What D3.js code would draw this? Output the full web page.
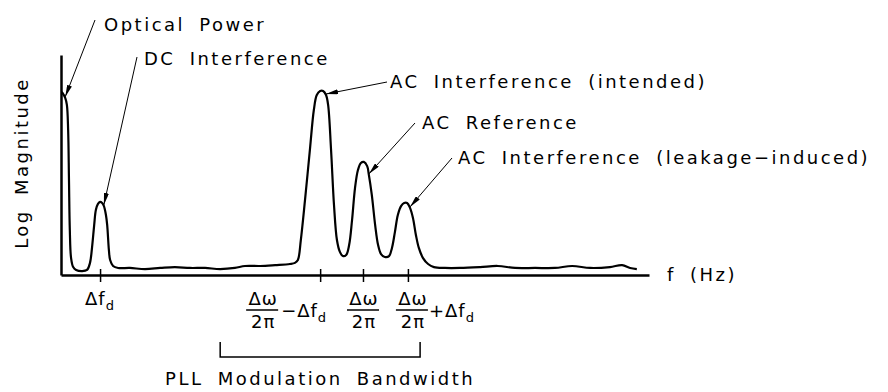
<!DOCTYPE html>
<html>
<head>
<meta charset="utf-8">
<script src="https://cdn.jsdelivr.net/npm/d3@7/dist/d3.min.js"></script>
<style>
body { margin: 0; background: #fff; }
svg text { font-family: "DejaVu Sans", sans-serif; font-size: 18px; fill: #000; }
.note, .title { letter-spacing: 2.5px; word-spacing: 6px; }
.math { letter-spacing: 1px; }
</style>
</head>
<body>
<svg id="spectrum-svg" width="888" height="392"></svg>
<script>
// spectrum: frequency (arbitrary units) and log magnitude (0-100)
let specFreq = [0.2, 1.0, 1.4, 1.7, 1.9, 2.1, 2.4, 2.9, 3.6, 5.0,
    6.2, 6.9, 7.4, 7.9, 8.3, 8.8, 9.3, 9.8, 10.2, 10.7,
    11.0, 11.4, 11.7, 12.4, 13.6, 16.4, 20.0, 23.6, 27.1, 30.7,
    34.3, 37.9, 41.4, 43.8, 47.4, 51.0, 54.5, 55.7, 56.4, 57.1,
    58.1, 59.3, 60.2, 60.9, 61.7, 62.4, 63.1, 63.6, 64.3, 65.0,
    65.7, 66.4, 67.1, 67.9, 68.6, 69.3, 70.0, 70.7, 71.4, 72.1,
    72.9, 73.3, 74.0, 74.8, 75.5, 76.2, 77.1, 78.1, 78.8, 79.5,
    80.2, 81.0, 81.7, 82.4, 83.1, 83.8, 84.5, 85.2, 86.2, 87.4,
    88.8, 91.4, 95.0, 99.8, 104.0, 108.1, 112.9, 117.6, 121.7, 126.0,
    130.7, 133.6, 135.5, 137.1];
let specMag = [83.2, 80.5, 77.3, 65.9, 43.2, 20.5, 7.7, 3.6, 2.3, 1.8,
    2.3, 5.5, 12.7, 22.7, 29.5, 32.3, 33.2, 32.7, 31.4, 27.3,
    22.7, 11.4, 6.8, 4.1, 3.2, 3.2, 2.7, 3.2, 3.6, 3.2,
    3.2, 2.7, 3.2, 4.1, 4.1, 4.5, 5.0, 5.5, 6.8, 15.9,
    34.1, 57.7, 75.0, 81.8, 83.6, 83.6, 81.8, 77.3, 56.8, 31.8,
    15.9, 10.5, 8.6, 9.1, 13.6, 25.0, 39.5, 47.7, 50.9, 51.4,
    49.5, 45.5, 36.4, 22.7, 13.6, 9.5, 8.2, 8.6, 12.3, 19.5,
    27.3, 31.4, 32.7, 32.7, 30.5, 25.9, 18.2, 12.3, 7.7, 5.0,
    3.6, 3.2, 3.2, 3.6, 4.1, 3.2, 3.2, 3.2, 4.1, 3.2,
    3.6, 4.5, 3.2, 2.7];

// x ticks: Δf_d, Δω/2π − Δf_d, Δω/2π, Δω/2π + Δf_d
let tickFreq = [9.3, 61.7, 71.9, 82.6];
let bandwidth = [37.9, 85.5];

// annotations and the spectrum point each arrow ends on
let noteLabels = ['Optical Power', 'DC Interference', 'AC Interference (intended)',
    'AC Reference', 'AC Interference (leakage\u2212induced)'];
let noteIndex = [1, 18, 46, 61, 74];

let svg = d3.select('#spectrum-svg');
let pad = {t: 55, r: 239, b: 117, l: 61};
let chartW = +svg.attr('width') - pad.l - pad.r;
let chartH = +svg.attr('height') - pad.t - pad.b;

let xScale = d3.scaleLinear().domain([0, 140]).range([pad.l, pad.l + chartW]);
let yScale = d3.scaleLinear().domain([0, 100]).range([pad.t + chartH, pad.t]);
let axisY = pad.t + chartH;

// arrow head
svg.append('defs').append('marker')
    .attr('id', 'arrow')
    .attr('viewBox', '0 0 12 5')
    .attr('refX', 12)
    .attr('refY', 2.5)
    .attr('markerWidth', 12)
    .attr('markerHeight', 5)
    .attr('markerUnits', 'userSpaceOnUse')
    .attr('orient', 'auto')
    .append('path')
    .attr('d', 'M0,0L12,2.5L0,5Z')
    .attr('fill', '#000');

// axes
let yAxis = svg.append('g')
    .attr('transform', `translate(${pad.l},0)`)
    .call(d3.axisLeft(yScale).ticks(0).tickSizeOuter(0));
yAxis.select('.domain').attr('stroke-width', 2.5);

let xAxis = svg.append('g')
    .attr('transform', `translate(0,${axisY})`)
    .call(d3.axisBottom(xScale).tickValues(tickFreq).tickFormat('').tickSizeOuter(0));
xAxis.select('.domain').attr('stroke-width', 2.5);
xAxis.selectAll('.tick line').attr('y1', -6).attr('y2', 7).attr('stroke-width', 1.5);

// spectrum line
let specLine = d3.line()
    .x((d, i) => xScale(specFreq[i]))
    .y(d => yScale(d))
    .curve(d3.curveCatmullRom.alpha(0.5));
svg.append('path')
    .datum(specMag)
    .attr('d', specLine)
    .attr('fill', 'none')
    .attr('stroke', '#000')
    .attr('stroke-width', 2.2)
    .attr('stroke-linejoin', 'round');

// annotation texts + arrows
let notePos = [[104, 31, 95, 20], [144, 65, 137, 57], [390, 88, 387, 82],
    [422, 129, 415, 123], [458, 164, 452, 158]];
noteLabels.forEach((label, k) => {
    let p = notePos[k];
    let i = noteIndex[k];
    svg.append('text')
        .attr('class', 'note')
        .attr('x', p[0])
        .attr('y', p[1])
        .text(label);
    svg.append('line')
        .attr('x1', p[2])
        .attr('y1', p[3])
        .attr('x2', xScale(specFreq[i]))
        .attr('y2', yScale(specMag[i]) - 1)
        .attr('stroke', '#000')
        .attr('stroke-width', 1)
        .attr('marker-end', 'url(#arrow)');
});

// axis titles
svg.append('text')
    .attr('class', 'title')
    .attr('x', pad.l + chartW + 18)
    .attr('y', axisY + 6)
    .text('f (Hz)');
svg.append('text')
    .attr('class', 'title')
    .attr('text-anchor', 'middle')
    .attr('transform', `translate(28, ${pad.t + 108}) rotate(-90)`)
    .text('Log Magnitude');

// tick labels
function subText(g, x, y, main, sub) {
    let t = g.append('text').attr('class', 'math').attr('x', x).attr('y', y);
    t.append('tspan').text(main);
    t.append('tspan').text(sub).attr('dy', 5).style('font-size', '13px');
}
function fraction(g, cx) {
    g.append('text').attr('class', 'math').attr('x', cx + 1).attr('y', axisY + 30)
        .attr('text-anchor', 'middle').text('\u0394\u03c9');
    g.append('line')
        .attr('x1', cx - 16).attr('x2', cx + 16)
        .attr('y1', axisY + 35).attr('y2', axisY + 35)
        .attr('stroke', '#000').attr('stroke-width', 1.5);
    g.append('text').attr('class', 'math').attr('x', cx + 1).attr('y', axisY + 53)
        .attr('text-anchor', 'middle').text('2\u03c0');
}
let labelG = svg.append('g');
let tx = tickFreq.map(d => xScale(d));
subText(labelG, tx[0] - 15, axisY + 30, '\u0394f', 'd');
fraction(labelG, tx[1] - 58);
subText(labelG, tx[1] - 39, axisY + 42, '\u2212\u0394f', 'd');
fraction(labelG, tx[2]);
fraction(labelG, tx[3] + 4);
subText(labelG, tx[3] + 21, axisY + 42, '+\u0394f', 'd');

// PLL bandwidth bracket
let bx0 = xScale(bandwidth[0]);
let bx1 = xScale(bandwidth[1]);
svg.append('path')
    .attr('d', `M${bx0},${axisY + 67}V${axisY + 82}H${bx1}V${axisY + 67}`)
    .attr('fill', 'none')
    .attr('stroke', '#000')
    .attr('stroke-width', 1.5);
svg.append('text')
    .attr('class', 'title')
    .attr('text-anchor', 'middle')
    .attr('x', (bx0 + bx1) / 2)
    .attr('y', axisY + 110)
    .text('PLL Modulation Bandwidth');
</script>
</body>
</html>
